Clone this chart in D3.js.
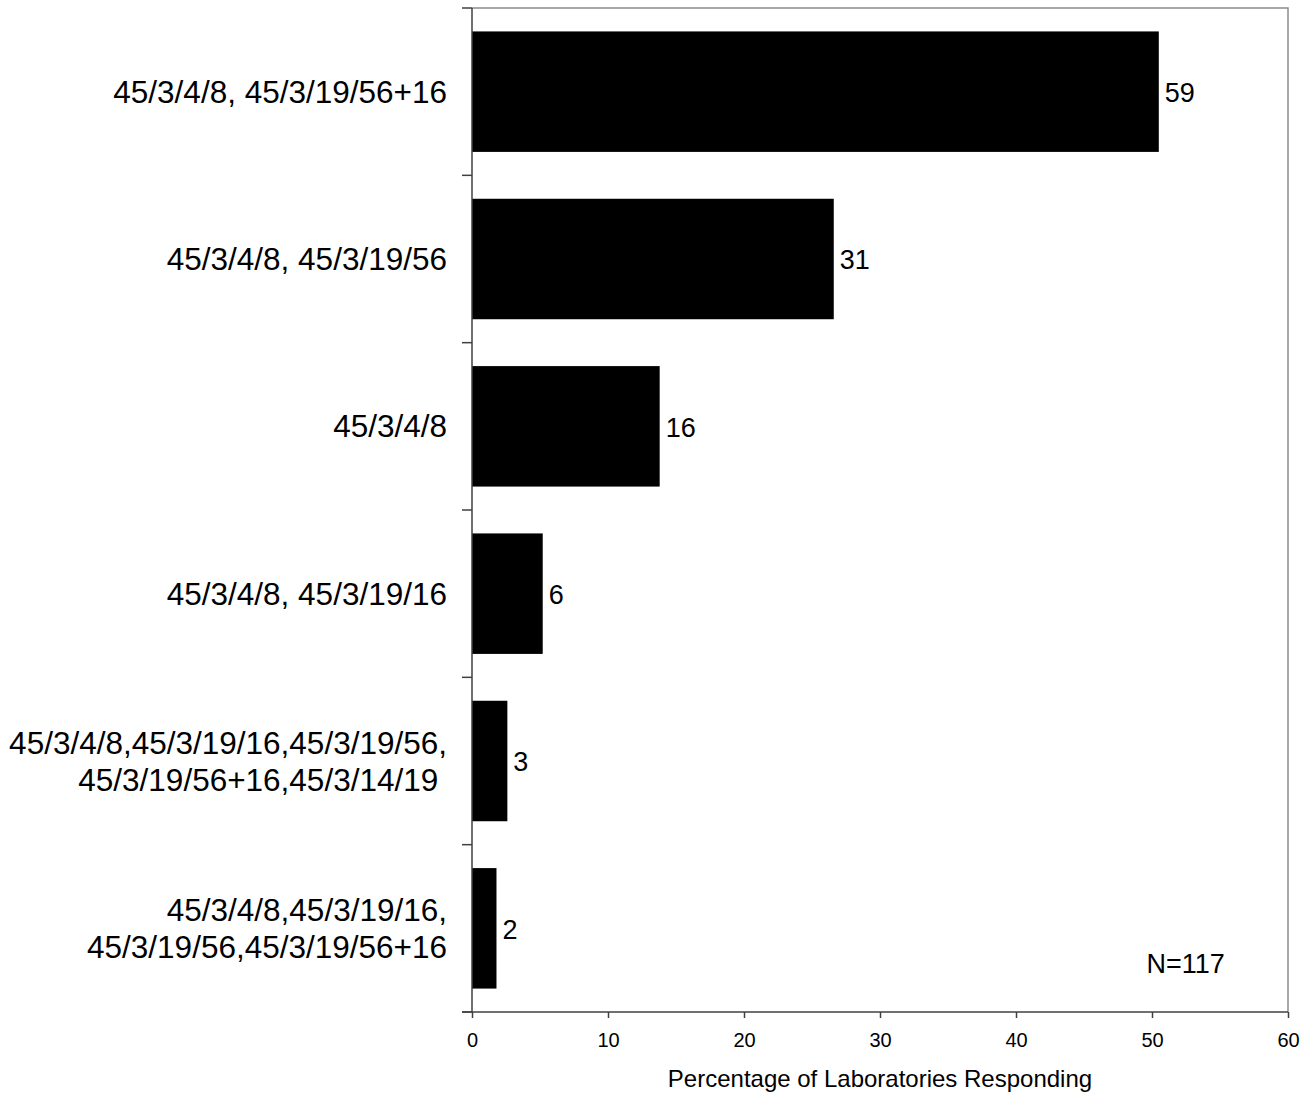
<!DOCTYPE html>
<html>
<head>
<meta charset="utf-8">
<script src="https://cdn.jsdelivr.net/npm/d3@7"></script>
<style>
  html, body { margin: 0; padding: 0; background: #fff; }
  svg text { font-family: Arial, "Liberation Sans", sans-serif; fill: #000; }
</style>
</head>
<body>
<svg id="chart" width="1312" height="1094"></svg>
<script>
// ---- data ----
const categories = [
  ["45/3/4/8, 45/3/19/56+16"],
  ["45/3/4/8, 45/3/19/56"],
  ["45/3/4/8"],
  ["45/3/4/8, 45/3/19/16"],
  ["45/3/4/8,45/3/19/16,45/3/19/56,", "45/3/19/56+16,45/3/14/19 "],
  ["45/3/4/8,45/3/19/16,", "45/3/19/56,45/3/19/56+16"]
];
const percentages = [50.5, 26.6, 13.8, 5.2, 2.6, 1.8];
const counts = [59, 31, 16, 6, 3, 2];
const xTicks = [0, 10, 20, 30, 40, 50, 60];
const xTitle = "Percentage of Laboratories Responding";
const note = "N=117";

// ---- layout ----
const svg = d3.select("#chart");
const L = 472, R = 1288, T = 8, B = 1012;

const x = d3.scaleLinear().domain([0, 60]).range([L, R]);
const y = d3.scaleBand().domain(d3.range(categories.length)).range([T, B])
  .paddingInner(0.28).paddingOuter(0.14);
const step = y.step();

// frame (top & right, grey)
svg.append("path")
  .attr("d", `M${L},${T}H${R}V${B}`)
  .attr("fill", "none").attr("stroke", "#8c8c8c").attr("stroke-width", 1.5);

// bars
svg.append("g").selectAll("rect").data(percentages).join("rect")
  .attr("x", x(0))
  .attr("y", (d, i) => y(i))
  .attr("width", d => x(d) - x(0))
  .attr("height", y.bandwidth())
  .attr("fill", "#000");

// value labels
svg.append("g").selectAll("text").data(percentages).join("text")
  .attr("x", d => x(d) + 6)
  .attr("y", (d, i) => y(i) + y.bandwidth() / 2 + 1)
  .attr("dy", "0.35em")
  .attr("font-size", 27)
  .text((d, i) => counts[i]);

// left axis: line + ticks at band boundaries
const boundaries = d3.range(categories.length + 1).map(i => T + i * step);
const gl = svg.append("g");
gl.append("line").attr("x1", L).attr("x2", L).attr("y1", T).attr("y2", B)
  .attr("stroke", "#404040").attr("stroke-width", 1.5);
gl.selectAll("line.t").data(boundaries).join("line").attr("class", "t")
  .attr("x1", L - 10).attr("x2", L).attr("y1", d => d).attr("y2", d => d)
  .attr("stroke", "#404040").attr("stroke-width", 1.5);

// category labels
const catSize = 31.5;
const lineH = 37;
const cl = svg.append("g").selectAll("text").data(categories).join("text")
  .attr("text-anchor", "end")
  .attr("font-size", catSize)
  .style("white-space", "pre")
  .attr("x", L - 25)
  .attr("y", (d, i) => y(i) + y.bandwidth() / 2);
cl.selectAll("tspan").data(d => d.map((s, j) => ({s, j, n: d.length}))).join("tspan")
  .attr("x", L - 25)
  .attr("dy", (t) => t.j === 0 ? ((-(t.n - 1) / 2) * lineH + catSize * 0.35) : lineH)
  .text(t => t.s);

// bottom axis
const xAxis = d3.axisBottom(x).tickValues(xTicks).tickSize(6).tickSizeOuter(0).tickPadding(15);
const gx = svg.append("g").attr("transform", `translate(0,${B})`).call(xAxis);
gx.select(".domain").remove();
gx.append("line").attr("x1", L - 10).attr("x2", R).attr("y1", 0).attr("y2", 0)
  .attr("stroke", "#404040").attr("stroke-width", 1.5);
gx.selectAll(".tick line").attr("stroke", "#404040").attr("stroke-width", 1.5);
gx.selectAll(".tick text").attr("font-size", 20).attr("fill", "#000")
  .attr("font-family", "Arial, 'Liberation Sans', sans-serif");

// axis title
svg.append("text")
  .attr("x", (L + R) / 2).attr("y", 1087)
  .attr("text-anchor", "middle").attr("font-size", 24)
  .text(xTitle);

// N annotation
svg.append("text")
  .attr("x", x(49.6)).attr("y", 973)
  .attr("font-size", 27)
  .text(note);
</script>
</body>
</html>
